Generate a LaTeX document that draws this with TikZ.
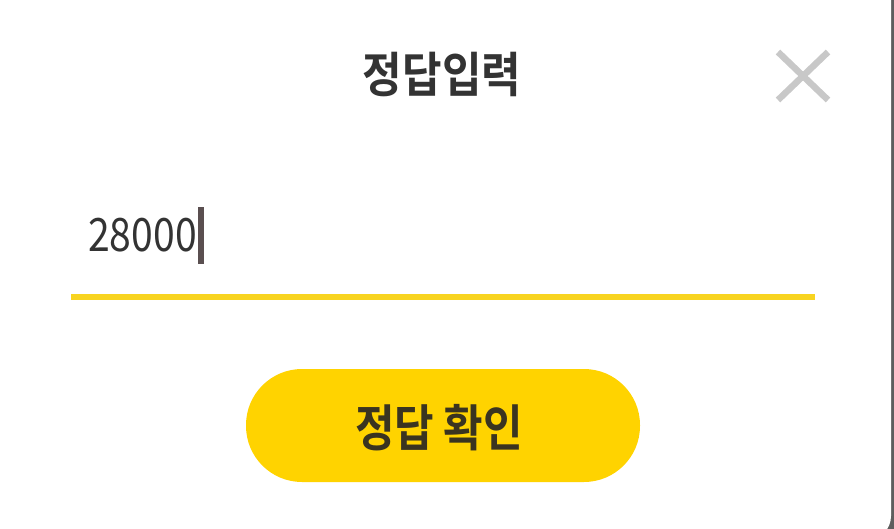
\documentclass[tikz,border=0pt]{standalone}
\usepackage{fontspec}
\newfontfamily\krbold{Noto Sans CJK KR Bold}
\newfontfamily\krreg{Noto Sans CJK KR}
\definecolor{edgegray}{HTML}{5E5E5E}
\definecolor{titlegray}{HTML}{333333}
\definecolor{xgray}{HTML}{C8C8C8}
\definecolor{lineyellow}{HTML}{F8D420}
\definecolor{btnyellow}{HTML}{FFD300}
\definecolor{btntext}{HTML}{3A3420}
\definecolor{cursorgray}{HTML}{5A4F50}
\tikzset{
  titletext/.style={font=\krbold\fontsize{43}{43}\selectfont, text=titlegray, inner sep=0pt},
  btnlabel/.style={font=\krbold\fontsize{43}{43}\selectfont, text=btntext, inner sep=0pt},
  inputtext/.style={font=\krreg\fontsize{46}{46}\selectfont, text=titlegray, inner sep=0pt, anchor=base west},
  closeline/.style={draw=xgray, line width=6.5pt},
}
\begin{document}
\begin{tikzpicture}[x=1pt,y=-1pt]
\useasboundingbox (0,0) rectangle (894,529);
\fill[edgegray] (0,0) rectangle (894,529);
\fill[white, rounded corners=24pt] (-40,-40) rectangle (891,540);
% title
\node[titletext] (title) at (442,74) {\scalebox{1}[1.12]{정답입력}};
% close icon
\coordinate (xa) at (778,52);
\coordinate (xb) at (828,100);
\coordinate (xc) at (828,52);
\coordinate (xd) at (778,100);
\draw[closeline] (xa) -- (xb);
\draw[closeline] (xc) -- (xd);
% input
\node[inputtext] (input) at (88,252) {\scalebox{0.85}[1]{28000}};
\fill[cursorgray] (198,207) rectangle (204,264);
\coordinate (la) at (71,297);
\coordinate (lb) at (815,297);
\draw[draw=lineyellow, line width=6pt] (la) -- (lb);
% button
\fill[btnyellow, rounded corners=56pt] (246,369) rectangle (640,482);
\node[btnlabel] (btn) at (439,428) {\scalebox{1}[1.16]{정답 확인}};
\end{tikzpicture}
\end{document}
